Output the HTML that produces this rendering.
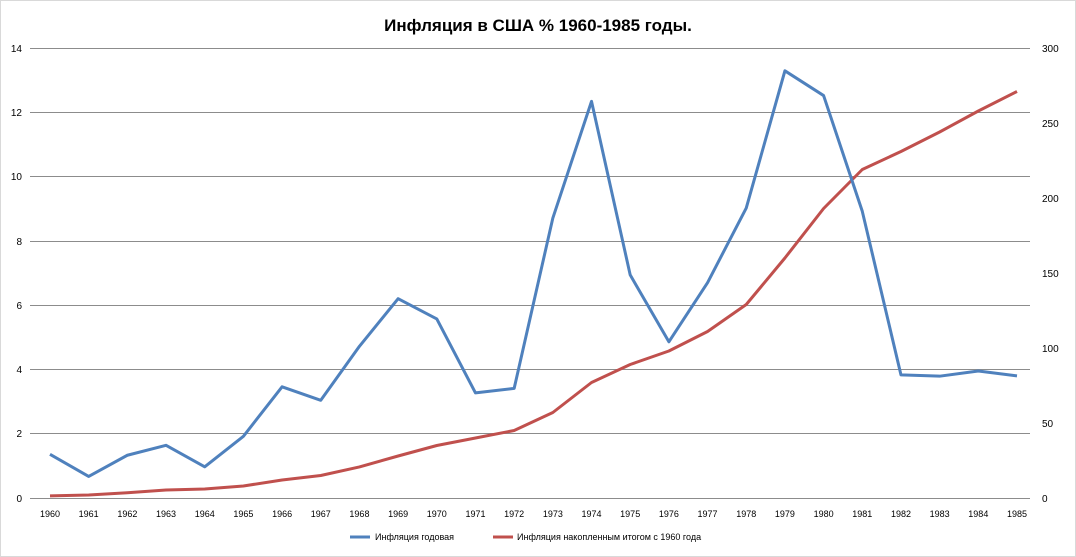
<!DOCTYPE html>
<html><head><meta charset="utf-8"><style>
body{margin:0;background:#fff}
svg{display:block;font-family:"Liberation Sans","DejaVu Sans",sans-serif}
</style></head><body>
<svg width="1076" height="557" viewBox="0 0 1076 557">
<rect x="0.5" y="0.5" width="1075" height="556" fill="#fff" stroke="#d9d9d9"/>
<text x="538" y="31" text-anchor="middle" font-size="17" font-weight="bold" fill="#000">Инфляция в США % 1960-1985 годы.</text>
<g stroke="#8c8c8c" stroke-width="1">
<line x1="30" x2="1030" y1="48.5" y2="48.5"/>
<line x1="30" x2="1030" y1="112.5" y2="112.5"/>
<line x1="30" x2="1030" y1="176.5" y2="176.5"/>
<line x1="30" x2="1030" y1="241.5" y2="241.5"/>
<line x1="30" x2="1030" y1="305.5" y2="305.5"/>
<line x1="30" x2="1030" y1="369.5" y2="369.5"/>
<line x1="30" x2="1030" y1="433.5" y2="433.5"/>
<line x1="30" x2="1030" y1="498.5" y2="498.5"/>
</g>
<g font-size="10" fill="#000" text-anchor="end">
<text x="22" y="52">14</text><text x="22" y="116">12</text><text x="22" y="180">10</text>
<text x="22" y="245">8</text><text x="22" y="309">6</text><text x="22" y="373">4</text>
<text x="22" y="437">2</text><text x="22" y="502">0</text>
</g>
<g font-size="10" fill="#000" text-anchor="start">
<text x="1042" y="52">300</text><text x="1042" y="127">250</text><text x="1042" y="202">200</text>
<text x="1042" y="277">150</text><text x="1042" y="352">100</text><text x="1042" y="427">50</text>
<text x="1042" y="502">0</text>
</g>
<g font-size="9" fill="#000" text-anchor="middle" id="xl"></g>
<polyline id="red" fill="none" stroke="#c0504d" stroke-width="3" stroke-linejoin="round"/>
<polyline id="blue" fill="none" stroke="#4f81bd" stroke-width="3" stroke-linejoin="round"/>
<line x1="350" x2="370" y1="537" y2="537" stroke="#4f81bd" stroke-width="3"/>
<text x="375" y="540" font-size="9">Инфляция годовая</text>
<line x1="493" x2="513" y1="537" y2="537" stroke="#c0504d" stroke-width="3"/>
<text x="517" y="540" font-size="9">Инфляция накопленным итогом с 1960 года</text>
</svg>
<script>
var b=[1.36,0.67,1.33,1.64,0.97,1.92,3.46,3.04,4.72,6.20,5.57,3.27,3.41,8.71,12.34,6.94,4.86,6.70,9.02,13.29,12.52,8.92,3.83,3.79,3.95,3.80];
var r=[1.4,2,3.5,5.3,6,8,12,15,20.7,28,35,40,45,57,77,89,98,111,129,160,193,219,231,244,258,271];
var bp=[],rp=[],xl=document.getElementById('xl'),s='';
for(var i=0;i<26;i++){var x=50+i*38.68;
bp.push(x+','+(498-b[i]*450/14));rp.push(x+','+(498-r[i]*1.5));
s+='<text x="'+x+'" y="517">'+(1960+i)+'</text>';}
xl.innerHTML=s;
document.getElementById('blue').setAttribute('points',bp.join(' '));
document.getElementById('red').setAttribute('points',rp.join(' '));
</script>
</body></html>
